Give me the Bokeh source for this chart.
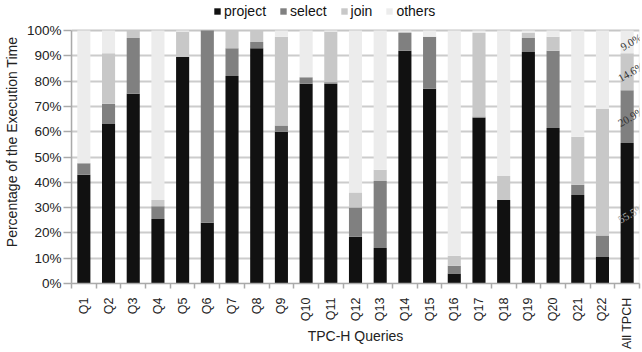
import math
from bokeh.plotting import figure
from bokeh.models import (ColumnDataSource, FixedTicker, Legend, LegendItem,
                          LabelSet, PrintfTickFormatter, BoxAnnotation)
from bokeh.embed import file_html
from bokeh.resources import INLINE

# ---- data ----
queries = ["Q1", "Q2", "Q3", "Q4", "Q5", "Q6", "Q7", "Q8", "Q9", "Q10", "Q11",
           "Q12", "Q13", "Q14", "Q15", "Q16", "Q17", "Q18", "Q19", "Q20", "Q21",
           "Q22", "All TPCH"]
project = [43.0, 63.0, 75.0, 25.5, 89.5, 24.0, 82.0, 93.0, 60.0, 79.0, 79.0,
           18.5, 14.0, 92.0, 77.0, 4.0, 65.5, 33.0, 91.5, 61.5, 35.0, 10.5, 55.5]
select = [4.5, 8.0, 22.0, 5.0, 0.0, 76.0, 11.0, 2.5, 2.5, 2.5, 0.5,
          11.5, 26.5, 7.0, 20.5, 3.0, 0.5, 0.0, 5.5, 30.5, 4.0, 8.5, 20.9]
join = [0.0, 20.0, 3.0, 2.5, 10.0, 0.0, 7.0, 4.5, 35.0, 0.0, 20.0,
        6.0, 4.5, 0.5, 0.0, 4.0, 33.0, 9.5, 2.0, 5.5, 19.0, 50.0, 14.6]
others = [52.5, 9.0, 0.0, 67.0, 0.5, 0.0, 0.0, 0.0, 2.5, 18.5, 0.5,
          64.0, 55.0, 0.5, 2.5, 89.0, 1.0, 57.5, 1.0, 2.5, 42.0, 31.0, 9.0]
series = ["project", "select", "join", "others"]
y_ticks = [0, 10, 20, 30, 40, 50, 60, 70, 80, 90, 100]

# ---- styles ----
colors = ["#111111", "#808080", "#c8c8c8", "#ececec"]
FONT = "Liberation Sans"
TXT = "#222222"
GRAY = "#aaaaaa"

n = len(queries)
xs = list(range(1, n + 1))
src = ColumnDataSource(dict(x=xs, project=project, select=select,
                            join=join, others=others))

# frame reaches the top of the figure; the headroom above 100% holds the legend
p = figure(width=642, height=352, x_range=(0.5, n + 0.5), y_range=(0, 111.86),
           output_backend="svg", toolbar_location=None,
           min_border_left=70, min_border_right=3,
           min_border_top=0, min_border_bottom=69,
           background_fill_color="white", border_fill_color="white")
p.outline_line_color = None

# border of the 0-100% plot area
p.add_layout(BoxAnnotation(bottom=y_ticks[0], top=y_ticks[-1], fill_alpha=0,
                           line_color="#bbbbbb", line_width=1.5, level="underlay"))

rs = p.vbar_stack(series, x="x", width=0.53, fill_color=colors,
                  line_color=None, source=src)

# y axis
p.yaxis.ticker = FixedTicker(ticks=y_ticks)
p.yaxis.bounds = (y_ticks[0], y_ticks[-1])
p.yaxis.formatter = PrintfTickFormatter(format="%d%%")
p.yaxis.axis_label = "Percentage of the Execution Time"
p.yaxis.axis_label_text_font = FONT
p.yaxis.axis_label_text_font_size = "14px"
p.yaxis.axis_label_text_font_style = "normal"
p.yaxis.axis_label_text_color = TXT
p.yaxis.axis_label_standoff = 4
p.yaxis.major_label_text_font = FONT
p.yaxis.major_label_text_font_size = "13.5px"
p.yaxis.major_label_text_color = TXT
p.yaxis.major_label_standoff = 2
p.yaxis.major_tick_out = 8
p.yaxis.major_tick_in = 0
p.yaxis.minor_tick_line_color = None
p.yaxis.major_tick_line_color = GRAY
p.yaxis.major_tick_line_width = 1.5
p.yaxis.axis_line_color = GRAY
p.yaxis.axis_line_width = 1.5

# x axis
p.xaxis.ticker = FixedTicker(ticks=xs, minor_ticks=[i + 0.5 for i in range(0, n + 1)])
p.xaxis.major_label_overrides = {i: q for i, q in zip(xs, queries)}
p.xaxis.major_label_orientation = math.pi / 2
p.xaxis.major_label_text_font = FONT
p.xaxis.major_label_text_font_size = "12.5px"
p.xaxis.major_label_text_color = TXT
p.xaxis.major_label_standoff = 9
p.xaxis.major_tick_out = 0
p.xaxis.major_tick_in = 0
p.xaxis.major_tick_line_color = None
p.xaxis.minor_tick_out = 5
p.xaxis.minor_tick_in = 0
p.xaxis.minor_tick_line_color = GRAY
p.xaxis.minor_tick_line_width = 1.5
p.xaxis.axis_line_color = GRAY
p.xaxis.axis_line_width = 1.5
p.xaxis.axis_label = "TPC-H Queries"
p.xaxis.axis_label_text_font = FONT
p.xaxis.axis_label_text_font_size = "14px"
p.xaxis.axis_label_text_font_style = "normal"
p.xaxis.axis_label_text_color = TXT
p.xaxis.axis_label_standoff = -24

p.xgrid.visible = False
p.ygrid.grid_line_color = "#cccccc"
p.ygrid.grid_line_width = 2

# legend in the headroom above 100%
items = [LegendItem(label=s, renderers=[r]) for s, r in zip(series, rs)]
legend = Legend(items=items, orientation="horizontal", location=(142, 264),
                border_line_color=None, background_fill_alpha=0,
                label_text_font=FONT, label_text_font_size="14px",
                label_text_color="#111111",
                glyph_width=8, glyph_height=8, label_standoff=3, spacing=13,
                padding=0, margin=0)
p.add_layout(legend, "center")

# percentage labels for the last bar
last = [project[-1], select[-1], join[-1], others[-1]]
mids, cum = [], 0.0
for v in last:
    mids.append(cum + v / 2)
    cum += v
lab_src = ColumnDataSource(dict(x=[xs[-1]] * 4, y=mids,
                                text=[f"{v:.1f}%" for v in last],
                                tcolor=["#aaaaaa", "#333333", "#333333", "#333333"]))
p.add_layout(LabelSet(x="x", y="y", text="text", source=lab_src, angle=30,
                      angle_units="deg", text_align="center", text_baseline="middle",
                      text_font=FONT, text_font_size="11px", text_color="tcolor",
                      x_offset=4))

open("out.html", "w").write(file_html(p, INLINE))
